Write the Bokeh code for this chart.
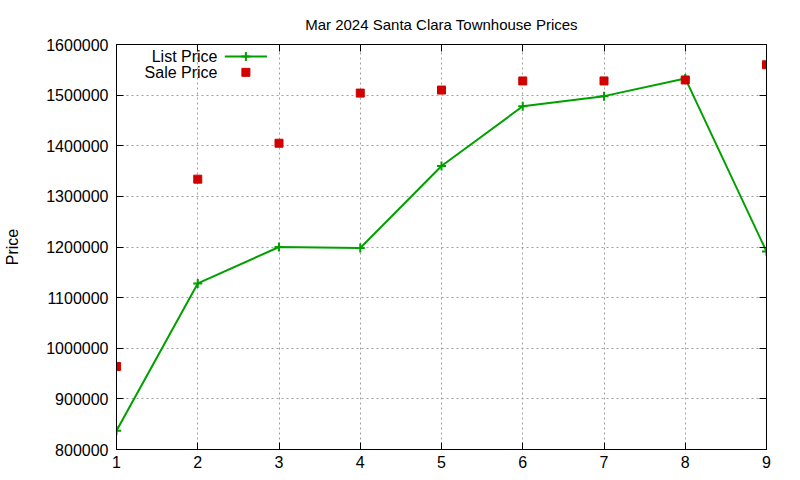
from bokeh.plotting import figure
from bokeh.models import (ColumnDataSource, FixedTicker, BasicTickFormatter,
                          LinearAxis, Label, Range1d)
from bokeh.embed import file_html
from bokeh.resources import INLINE

# data
sale_index = [1, 2, 3, 4, 5, 6, 7, 8, 9]
list_price = [837000, 1128000, 1200000, 1198000, 1360000, 1478000, 1498000, 1533000, 1191000]
sale_price = [964000, 1334000, 1405000, 1504000, 1510000, 1528000, 1528000, 1530000, 1560000]
y_ticks = [800000, 900000, 1000000, 1100000, 1200000, 1300000, 1400000, 1500000, 1600000]

FONT = "Liberation Sans"
GREEN = "#00a000"
RED = "#d00000"

source = ColumnDataSource(data=dict(x=sale_index, lp=list_price, sp=sale_price))

p = figure(width=784, height=470, output_backend="svg", toolbar_location=None,
           title="Mar 2024 Santa Clara Townhouse Prices",
           x_range=Range1d(1, 9), y_range=Range1d(800000, 1600000),
           min_border_left=116, min_border_right=18, min_border_top=44,
           min_border_bottom=9)

p.title.align = "center"
p.title.vertical_align = "top"
p.title.text_font = FONT
p.title.text_font_style = "normal"
p.title.text_font_size = "15px"
p.title.text_color = "black"
p.title.standoff = 20

p.outline_line_color = "black"
p.outline_line_width = 1
p.outline_line_alpha = 1

# gnuplot style dotted grid
for g in (p.xgrid, p.ygrid):
    g.grid_line_color = "#a0a0a0"
    g.grid_line_dash = "2 3"
    g.grid_line_width = 1

p.xaxis.ticker = FixedTicker(ticks=sale_index)
p.yaxis.ticker = FixedTicker(ticks=y_ticks)
p.yaxis.formatter = BasicTickFormatter(use_scientific=False)
p.yaxis.axis_label = "Price"
p.yaxis.axis_label_standoff = 22
p.yaxis.axis_label_text_font_style = "normal"
p.yaxis.axis_label_text_color = "black"

for ax in (p.xaxis, p.yaxis):
    ax.major_label_text_font = FONT
    ax.major_label_text_font_size = "16px"
    ax.major_label_text_color = "black"
    ax.axis_label_text_font = FONT
    ax.axis_label_text_font_size = "16px"
    ax.axis_line_color = "black"
    ax.major_tick_in = 7
    ax.major_tick_out = 0
    ax.minor_tick_line_color = None
    ax.major_tick_line_color = "black"

p.xaxis.major_label_standoff = 6
p.yaxis.major_label_standoff = 8

# mirrored ticks on right and top
right = LinearAxis(ticker=FixedTicker(ticks=y_ticks),
                   major_label_overrides={t: "" for t in y_ticks},
                   major_tick_in=7, major_tick_out=0, minor_tick_line_color=None,
                   axis_line_color="black")
top = LinearAxis(ticker=FixedTicker(ticks=sale_index),
                 major_label_overrides={t: "" for t in sale_index},
                 major_tick_in=7, major_tick_out=0, minor_tick_line_color=None,
                 axis_line_color="black")
p.add_layout(right, "right")
p.add_layout(top, "above")

p.line("x", "lp", source=source, line_color=GREEN, line_width=2)
p.scatter("x", "lp", source=source, marker="cross", size=9, line_color=GREEN, line_width=2)
p.scatter("x", "sp", source=source, marker="square", size=8, fill_color=RED, line_color=RED)

# gnuplot style key: text right-aligned, sample to its right
key_x_text = 101
key_rows = [(393, "List Price"), (377, "Sale Price")]
for sy, txt in key_rows:
    p.add_layout(Label(x=key_x_text, y=sy, x_units="screen", y_units="screen", text=txt,
                       text_align="right", text_baseline="middle", text_font=FONT,
                       text_font_size="16px", text_color="black"))

key_line_x = [2.333, 2.852]
key_list_y = 1576500
key_sale_y = 1545000
p.line(key_line_x, [key_list_y, key_list_y], line_color=GREEN, line_width=2)
p.scatter([sum(key_line_x) / 2], [key_list_y], marker="cross", size=9,
          line_color=GREEN, line_width=2)
p.scatter([sum(key_line_x) / 2], [key_sale_y], marker="square", size=8,
          fill_color=RED, line_color=RED)

open("out.html", "w").write(file_html(p, INLINE))
